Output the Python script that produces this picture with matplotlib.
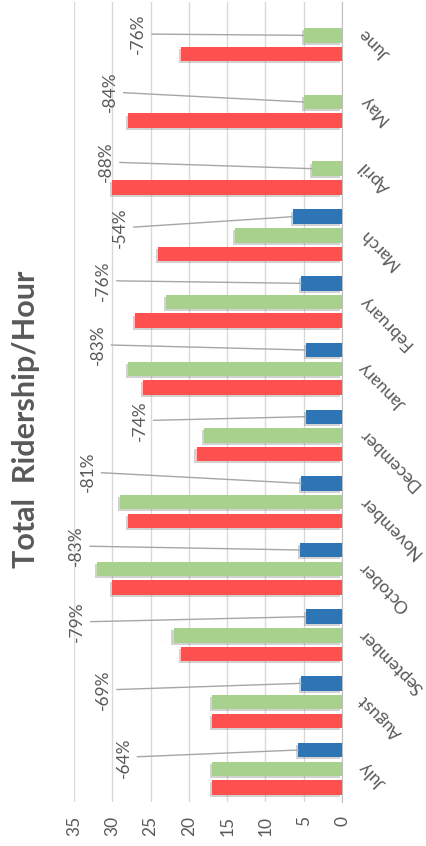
import numpy as np
import matplotlib.pyplot as plt
import matplotlib.patheffects as pe

plt.rcParams['font.family'] = ['Lato', 'DejaVu Sans']

months = ["July", "August", "September", "October", "November", "December",
          "January", "February", "March", "April", "May", "June"]
red_vals = [17, 17, 21, 30, 28, 19, 26, 27, 24, 30, 28, 21]
green_vals = [17, 17, 22, 32, 29, 18, 28, 23, 14, 3.9, 5, 5]
blue_vals = [5.7, 5.3, 4.7, 5.5, 5.3, 4.7, 4.7, 5.3, 6.4, np.nan, np.nan, np.nan]
pct_labels = ["-64%", "-69%", "-79%", "-83%", "-81%", "-74%",
              "-83%", "-76%", "-54%", "-88%", "-84%", "-76%"]
# where each percent label sits (value position, offset from group centre)
lab_x = [28.5, 31.2, 34.6, 34.7, 33.2, 26.4, 31.9, 31.2, 29.0, 30.8, 30.3, 26.6]
lab_dy = [0.17, 0.18, 0.20, 0.34, 0.45, 0.22, 0.36, 0.32, 0.11, 0.10, 0.15, 0.02]

c_red = "#FF5050"
c_green = "#A9D18E"
c_blue = "#2E75B6"
grey_txt = "#595959"

fig = plt.figure(figsize=(4.26, 8.46), dpi=100)
ax = fig.add_axes([74/426, 1-802/846, 268/426, 800/846])

y = np.arange(len(months))
off = 0.28
h = 0.215
shadow = [pe.SimplePatchShadow(offset=(-1.5, -1.5), shadow_rgbFace="#808080", alpha=0.35), pe.Normal()]

ax.barh(y - off, red_vals, height=h, color=c_red, path_effects=shadow, zorder=3)
ax.barh(y, green_vals, height=h, color=c_green, path_effects=shadow, zorder=3)
bv = np.array(blue_vals)
ok = ~np.isnan(bv)
ax.barh(y[ok] + off, bv[ok], height=h, color=c_blue, path_effects=shadow, zorder=3)

# leader lines from the percent labels to the latest bar
for i in range(len(months)):
    if np.isnan(bv[i]):
        tx, ty = green_vals[i], y[i]
    else:
        tx, ty = bv[i], y[i] + off
    ax.annotate(pct_labels[i], xy=(tx, ty), xytext=(lab_x[i], y[i] + lab_dy[i]),
                rotation=90, ha="center", va="center", fontsize=12.5, color=grey_txt,
                arrowprops=dict(arrowstyle="-", color="#A6A6A6", lw=1,
                                shrinkA=2, shrinkB=0),
                zorder=5)

ax.set_xlim(35, 0)
ax.set_ylim(-0.5, 11.5)
ax.set_xticks(range(0, 36, 5))
ax.tick_params(axis="x", length=0, pad=10, labelsize=12.5, labelcolor=grey_txt, labelrotation=90)
ax.grid(axis="x", color="#D9D9D9", lw=1, zorder=0)

# month names, slanted, hanging off the category axis
ax.set_yticks([])
for k, m in enumerate(months):
    ax.annotate(m, xy=(1, k), xycoords=("axes fraction", "data"),
                xytext=(14, 3), textcoords="offset points",
                rotation=135, rotation_mode="anchor", ha="right", va="center",
                fontsize=12.5, color=grey_txt)

for s in ["top", "left", "bottom"]:
    ax.spines[s].set_visible(False)
ax.spines["right"].set_color("#BFBFBF")

fig.text(26/426, 1-419/846, "Total  Ridership/Hour", rotation=90, ha="center", va="center",
         fontsize=22, fontweight="bold", color=grey_txt)

fig.savefig("out.png", dpi=100)
